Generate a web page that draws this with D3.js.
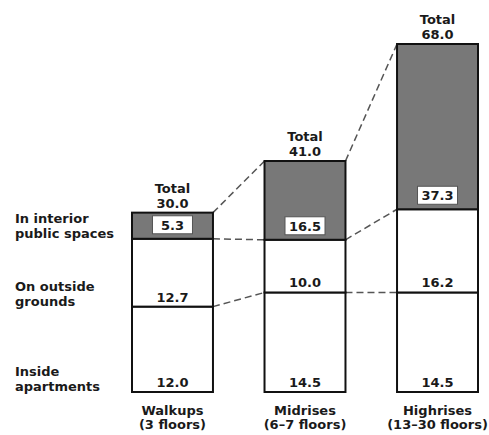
<!DOCTYPE html>
<html><head><meta charset="utf-8">
<script src="https://cdn.jsdelivr.net/npm/d3@7"></script>
<style>body{margin:0;background:#fff}svg{display:block}text{font-family:"DejaVu Sans",sans-serif;font-weight:bold;fill:#1a1a1a}</style>
</head><body>
<script>
const categories = ["Walkups", "Midrises", "Highrises"];
const categorySub = ["(3 floors)", "(6\u20137 floors)", "(13\u201330 floors)"];
const segments = ["Inside apartments", "On outside grounds", "In interior public spaces"];
const segmentLabelLines = [["Inside", "apartments"], ["On outside", "grounds"], ["In interior", "public spaces"]];
const insideApartments = [12.0, 14.5, 14.5];
const outsideGrounds = [12.7, 10.0, 16.2];
const interiorPublic = [5.3, 16.5, 37.3];
const totals = [30.0, 41.0, 68.0];

const W = 489, H = 435;
const svg = d3.select("body").append("svg").attr("width", W).attr("height", H);

const x = d3.scaleBand().domain(categories).range([132, 478]).paddingInner(0.389).paddingOuter(0);
const y = d3.scalePow().exponent(0.81).domain([0, 68]).range([392, 44]);

const series = [insideApartments, outsideGrounds, interiorPublic];
const data = categories.map((c, i) => {
  let acc = 0;
  return series.map((s, k) => { const y0 = acc; acc += s[i]; return {cat: c, i, k, y0, y1: acc, v: s[i]}; });
});

// dashed connectors
const conn = svg.append("g").attr("stroke", "#555").attr("stroke-width", 1.5).attr("stroke-dasharray", "7,4").attr("fill", "none");
for (let i = 0; i < categories.length - 1; i++) {
  const xa = x(categories[i]) + x.bandwidth(), xb = x(categories[i + 1]);
  data[i].forEach((d, k) => {
    if (k === 0) return;
    conn.append("line").attr("x1", xa).attr("y1", y(d.y0)).attr("x2", xb).attr("y2", y(data[i + 1][k].y0));
  });
  conn.append("line").attr("x1", xa).attr("y1", y(totals[i])).attr("x2", xb).attr("y2", y(totals[i + 1]));
}

const fills = ["#fff", "#fff", "#787878"];
data.forEach(stack => {
  stack.forEach(d => {
    svg.append("rect").attr("x", x(d.cat)).attr("y", y(d.y1)).attr("width", x.bandwidth())
      .attr("height", y(d.y0) - y(d.y1)).attr("fill", fills[d.k]).attr("stroke", "#111").attr("stroke-width", 2);
  });
});

const fs = 13;
data.forEach(stack => {
  stack.forEach(d => {
    const cx = x(d.cat) + x.bandwidth() / 2;
    const by = y(d.y0);
    const label = d.v.toFixed(1);
    if (d.k === 2) {
      const bw = 40;
      svg.append("rect").attr("x", cx - bw / 2).attr("y", by - 23).attr("width", bw).attr("height", 18)
        .attr("fill", "#fff").attr("stroke", "#555").attr("stroke-width", 1);
      svg.append("text").attr("x", cx).attr("y", by - 9).attr("text-anchor", "middle").attr("font-size", fs).text(label);
    } else {
      svg.append("text").attr("x", cx).attr("y", by - 5).attr("text-anchor", "middle").attr("font-size", fs).text(label);
    }
  });
});

// totals and category labels
categories.forEach((c, i) => {
  const cx = x(c) + x.bandwidth() / 2;
  const ty = y(totals[i]);
  svg.append("text").attr("x", cx).attr("y", ty - 20).attr("text-anchor", "middle").attr("font-size", fs).text("Total");
  svg.append("text").attr("x", cx).attr("y", ty - 5).attr("text-anchor", "middle").attr("font-size", fs).text(totals[i].toFixed(1));
  svg.append("text").attr("x", cx).attr("y", 415).attr("text-anchor", "middle").attr("font-size", fs).text(c);
  svg.append("text").attr("x", cx).attr("y", 429).attr("text-anchor", "middle").attr("font-size", fs).text(categorySub[i]);
});

// left segment labels, aligned to first bar
data[0].forEach(d => {
  const by = y(d.y0);
  const lines = segmentLabelLines[d.k];
  svg.append("text").attr("x", 15).attr("y", by - 16).attr("font-size", fs).text(lines[0]);
  svg.append("text").attr("x", 15).attr("y", by - 1).attr("font-size", fs).text(lines[1]);
});
</script>
</body></html>
